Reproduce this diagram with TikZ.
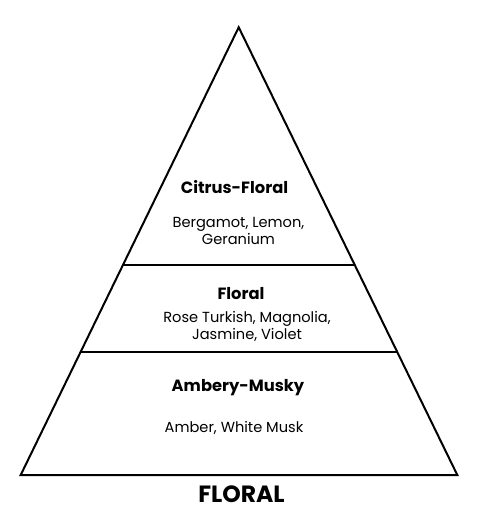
\documentclass[tikz,border=0pt]{standalone}
\usepackage{fontspec}
\setmainfont{Poppins}
\begin{document}
\begin{tikzpicture}[x=1pt,y=-1pt,
  edge/.style={line width=2pt,line join=miter},
  title/.style={font=\fontsize{16.3}{18}\selectfont\bfseries,inner sep=0pt},
  body/.style={font=\fontsize{14.6}{17}\selectfont,align=center,inner sep=0pt},
  base/.style={font=\fontsize{23.5}{26}\selectfont\bfseries,inner sep=0pt}]
\useasboundingbox (0,0) rectangle (500,513);
\coordinate (apex) at (238.7,27.3);
\coordinate (bl) at (20.7,475);
\coordinate (br) at (457.3,475);
\draw[edge] (apex) -- (br) -- (bl) -- cycle;
\path (bl) -- (apex) coordinate[pos={(475-265)/(475-27.3)}] (l1a);
\path (br) -- (apex) coordinate[pos={(475-265)/(475-27.3)}] (l1b);
\path (bl) -- (apex) coordinate[pos={(475-351.5)/(475-27.3)}] (l2a);
\path (br) -- (apex) coordinate[pos={(475-351.5)/(475-27.3)}] (l2b);
\draw[edge] (l1a) -- (l1b);
\draw[edge] (l2a) -- (l2b);
\node[title] (t1) at (234.5,187) {Citrus-Floral};
\node[body] (b1) at (238.5,230.5) {Bergamot, Lemon,\\Geranium};
\node[title] (t2) at (241,294) {Floral};
\node[body] (b2) at (247,326.5) {Rose Turkish, Magnolia,\\Jasmine, Violet};
\node[title] (t3) at (238,388) {Ambery-Musky};
\node[body] (b3) at (234,428) {Amber, White Musk};
\node[base] (f) at (241.5,494) {FLORAL};
\end{tikzpicture}
\end{document}
